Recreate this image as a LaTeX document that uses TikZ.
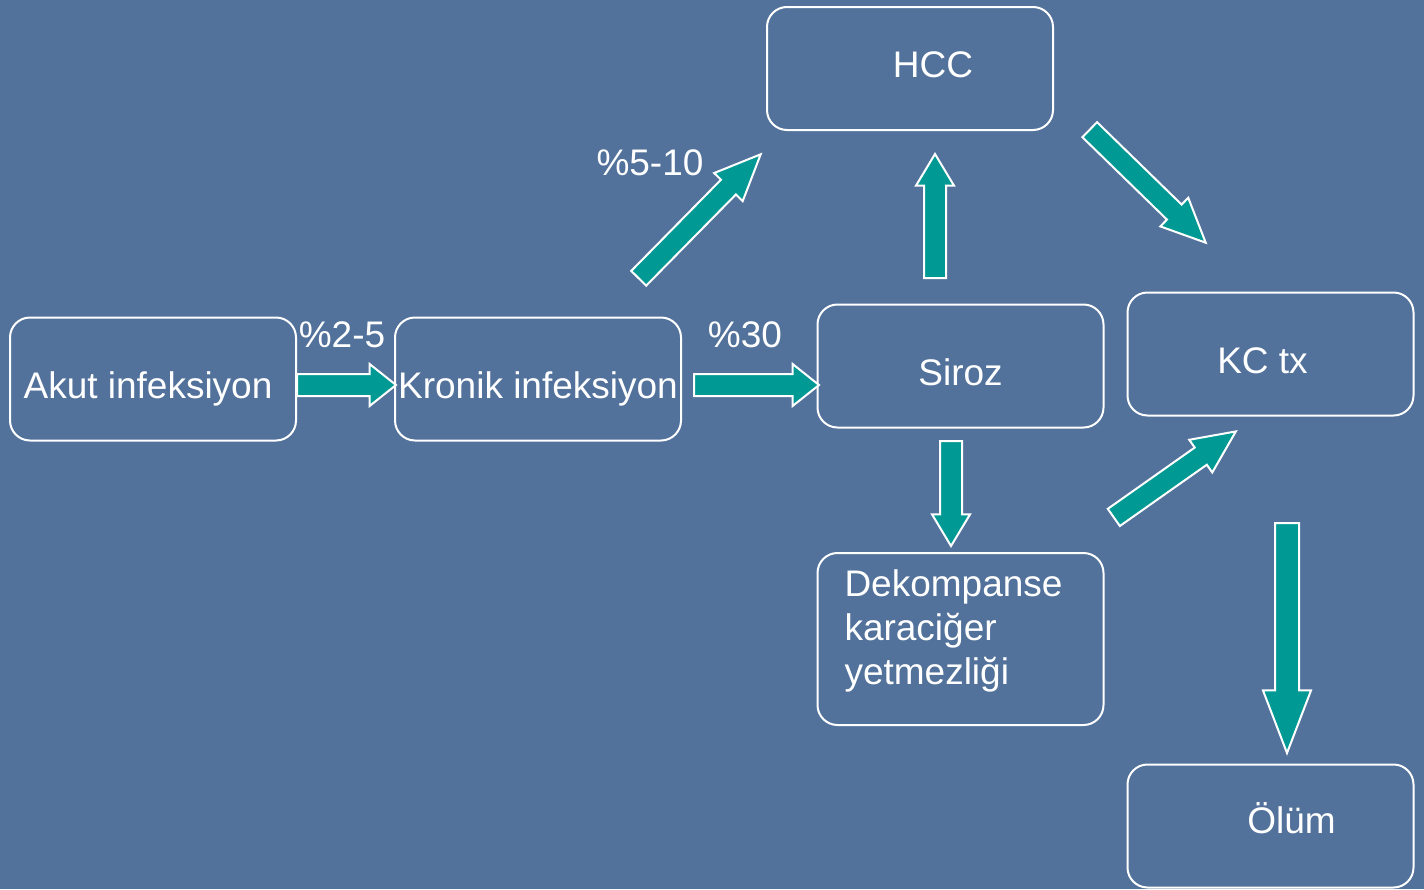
\documentclass[tikz,border=0pt]{standalone}
\usepackage{fontspec}
\setmainfont{Liberation Sans}
\usetikzlibrary{shapes.arrows,calc}
\definecolor{slide}{RGB}{82,114,155}
\definecolor{arrowteal}{RGB}{0,153,148}

\begin{document}
\begin{tikzpicture}[x=1pt,y=-1pt,
    every node/.style={text=white,font=\fontsize{37}{44}\selectfont},
    box/.style={draw=white,line width=2pt,rounded corners=20pt,
      minimum width=286pt,minimum height=123pt,inner sep=0pt},
    onerow/.style={text height=38pt,text depth=0pt},
    blockarrow/.style={single arrow,draw=white,line width=2pt,fill=arrowteal,
      minimum width=0pt,inner xsep=0pt,anchor=tail}]
%  background of the slide
  \fill[slide] (0,0) rectangle (1424,889);
  \useasboundingbox (0,0) rectangle (1424,889);

  \path (153,379) node[box,onerow] (akut) {Akut infeksiyon\hspace*{10pt}};
  \path (538,379) node[box,onerow] (kronik) {Kronik infeksiyon};
  \path (910,68.5) node[box,onerow,text height=17pt] (hcc) {\hspace*{46pt}HCC};
  \path (960.5,366) node[box,onerow] (siroz) {Siroz};
  \path (1270.5,354) node[box,onerow] (kctx) {KC tx\hspace*{16pt}};
  \path (960.5,639) node[box,minimum height=172pt,text width=232pt,
    inner xsep=27pt,align=left,text height=27pt,text depth=112pt] (dekomp)
    {Dekompanse\\karaciğer\\yetmezliği};
  \path (1270.5,826) node[box,onerow,text height=14pt] (olum) {\hspace*{42pt}Ölüm};

  \path (342,335) node (p25) {\%2-5};
  \path (745,335) node (p30) {\%30};
  \path (650,163) node (p510) {\%5-10};

  \coordinate (t1) at (296,385);  \coordinate (h1) at (395,385);
  \coordinate (t2) at (693,385);  \coordinate (h2) at (818,385);
  \coordinate (t3) at (638,279);  \coordinate (h3) at (760,155);
  \coordinate (t4) at (935,279);  \coordinate (h4) at (935,155);
  \coordinate (t5) at (1089,129); \coordinate (h5) at (1205,242);
  \coordinate (t6) at (951,440);  \coordinate (h6) at (951,545);
  \coordinate (t7) at (1113,518); \coordinate (h7) at (1235,432);
  \coordinate (t8) at (1287,522); \coordinate (h8) at (1287,752);

  \foreach \i/\hw/\ext/\ang in {1/10pt/10pt/77, 2/10pt/10pt/77,
      3/9.5pt/9.5pt/47, 4/10pt/8pt/62, 5/9.5pt/9.5pt/49,
      6/10pt/8pt/62, 7/9.5pt/9.5pt/50, 8/11pt/12pt/42}
    \path let \p1=($(h\i)-(t\i)$), \n1={veclen(\x1,\y1)} in
      (t\i) node[blockarrow,minimum height=\n1,rotate={atan2(\y1,\x1)},
        inner ysep=\hw,single arrow head extend=\ext,
        single arrow tip angle=\ang] (arrow\i) {};
\end{tikzpicture}
\end{document}
